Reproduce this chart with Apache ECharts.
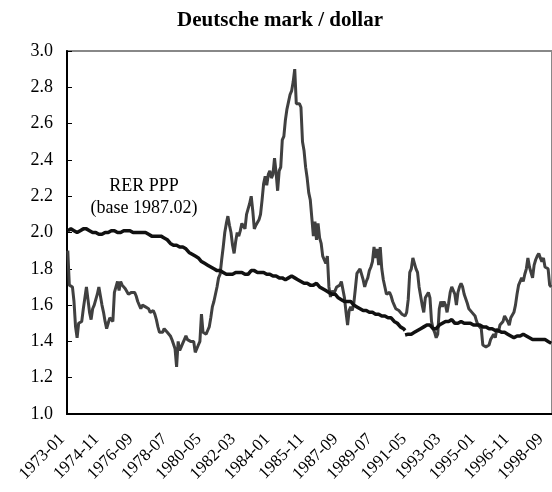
<!DOCTYPE html>
<html>
<head>
<meta charset="utf-8">
<script src="https://cdn.jsdelivr.net/npm/echarts@6/dist/echarts.min.js"></script>
<style>html,body{margin:0;padding:0;background:#fff}#c{width:552px;height:492px}</style>
</head>
<body>
<div id="c"></div>
<script>
// Monthly categories 1973-01 .. 1998-12
var startYear = 1973, monthCount = 312;
var categories = [];
for (var k = 0; k < monthCount; k++) {
  var y = startYear + Math.floor(k / 12), m = (k % 12) + 1;
  categories.push(y + '-' + (m < 10 ? '0' + m : m));
}

// Nominal DM/$ (grey line)
var dmDollar = [
1.90,1.71,1.71,1.70,1.62,1.48,1.42,1.50,1.49,1.51,1.58,1.64,
1.70,1.63,1.56,1.52,1.58,1.60,1.63,1.66,1.70,1.65,1.60,1.56,
1.51,1.47,1.50,1.53,1.52,1.51,1.67,1.70,1.73,1.68,1.73,1.71,
1.70,1.69,1.68,1.66,1.65,1.67,1.68,1.67,1.65,1.62,1.60,1.58,
1.60,1.60,1.59,1.59,1.58,1.56,1.57,1.57,1.55,1.52,1.48,1.45,
1.44,1.45,1.47,1.46,1.45,1.44,1.43,1.41,1.40,1.36,1.26,1.40,
1.35,1.37,1.39,1.41,1.43,1.41,1.40,1.40,1.39,1.40,1.34,1.35,
1.38,1.40,1.55,1.45,1.44,1.44,1.46,1.48,1.53,1.59,1.62,1.66,
1.70,1.75,1.77,1.85,1.92,2.00,2.05,2.09,2.04,2.00,1.93,1.885,
1.95,2.00,1.98,2.01,2.05,2.04,2.02,2.10,2.13,2.16,2.20,2.12,
2.02,2.04,2.05,2.07,2.10,2.18,2.27,2.31,2.26,2.32,2.34,2.30,
2.32,2.41,2.33,2.23,2.34,2.36,2.51,2.53,2.62,2.68,2.72,2.76,
2.78,2.83,2.90,2.71,2.70,2.71,2.69,2.50,2.45,2.36,2.30,2.22,
2.18,2.08,1.98,2.06,1.96,2.05,1.97,1.94,1.87,1.86,1.83,1.87,
1.70,1.645,1.68,1.66,1.68,1.70,1.71,1.71,1.73,1.72,1.64,1.56,
1.49,1.57,1.59,1.57,1.61,1.69,1.775,1.77,1.80,1.81,1.74,1.70,
1.73,1.75,1.79,1.81,1.84,1.92,1.86,1.91,1.82,1.92,1.80,1.74,
1.70,1.66,1.67,1.67,1.65,1.62,1.60,1.58,1.57,1.57,1.56,1.55,
1.54,1.54,1.56,1.63,1.78,1.80,1.86,1.87,1.80,1.78,1.70,1.69,
1.60,1.56,1.64,1.65,1.67,1.64,1.51,1.47,1.45,1.42,1.44,1.58,
1.62,1.59,1.62,1.60,1.56,1.61,1.67,1.70,1.71,1.66,1.60,1.67,
1.70,1.72,1.70,1.66,1.65,1.61,1.58,1.57,1.56,1.56,1.54,1.51,
1.49,1.48,1.47,1.38,1.38,1.37,1.38,1.38,1.41,1.40,1.44,1.42,
1.47,1.45,1.49,1.50,1.51,1.54,1.53,1.51,1.49,1.53,1.54,1.56,
1.60,1.66,1.71,1.72,1.75,1.73,1.77,1.80,1.86,1.81,1.80,1.75,
1.82,1.85,1.87,1.885,1.86,1.84,1.86,1.81,1.82,1.80,1.71,1.70
];

// RER PPP (base 1987.02), West Germany up to 1991-02
var rerPPPWest = [
2.01,2.01,2.02,2.01,2.01,2.00,2.00,2.00,2.01,2.02,2.02,2.02,
2.02,2.02,2.01,2.01,2.00,2.00,2.00,1.99,1.99,1.99,1.99,2.00,
2.00,2.00,2.00,2.01,2.01,2.01,2.01,2.00,2.00,2.00,2.00,2.00,
2.01,2.01,2.01,2.01,2.01,2.01,2.00,2.00,2.00,2.00,2.00,2.00,
2.00,2.00,2.00,1.99,1.99,1.98,1.98,1.98,1.98,1.98,1.98,1.98,
1.98,1.97,1.97,1.96,1.96,1.95,1.94,1.94,1.93,1.93,1.93,1.92,
1.92,1.92,1.92,1.92,1.91,1.90,1.89,1.89,1.88,1.87,1.87,1.86,
1.86,1.85,1.84,1.84,1.83,1.83,1.82,1.82,1.81,1.81,1.80,1.80,
1.79,1.79,1.79,1.78,1.78,1.77,1.77,1.77,1.77,1.77,1.77,1.78,
1.78,1.78,1.78,1.78,1.78,1.77,1.77,1.77,1.77,1.78,1.79,1.79,
1.79,1.79,1.78,1.78,1.78,1.78,1.78,1.78,1.77,1.77,1.77,1.77,
1.76,1.76,1.76,1.76,1.75,1.75,1.75,1.74,1.74,1.74,1.75,1.76,
1.76,1.76,1.75,1.75,1.74,1.74,1.73,1.73,1.72,1.72,1.72,1.71,
1.71,1.71,1.71,1.71,1.72,1.71,1.70,1.70,1.69,1.68,1.68,1.67,
1.67,1.66,1.66,1.66,1.66,1.65,1.64,1.64,1.63,1.63,1.62,1.62,
1.62,1.62,1.62,1.61,1.60,1.59,1.59,1.58,1.58,1.57,1.57,1.57,
1.57,1.57,1.56,1.56,1.56,1.55,1.55,1.55,1.55,1.55,1.54,1.54,
1.54,1.54,1.53,1.53,1.53,1.52,1.51,1.51,1.50,1.49,1.48,1.47,
1.47,1.46
];
// RER PPP after the break (from 1991-02 on)
var rerPPPUnified = [
1.435,1.44,1.44,1.44,1.44,1.45,1.45,1.45,1.46,1.47,1.47,1.48,
1.48,1.48,1.49,1.49,1.49,1.48,1.47,1.46,1.47,1.48,1.49,1.50,
1.50,1.51,1.51,1.51,1.51,1.52,1.52,1.51,1.50,1.50,1.50,1.51,
1.51,1.51,1.50,1.50,1.50,1.50,1.50,1.50,1.49,1.49,1.49,1.49,
1.49,1.48,1.48,1.48,1.48,1.48,1.47,1.47,1.47,1.46,1.46,1.46,
1.46,1.45,1.45,1.45,1.45,1.44,1.44,1.43,1.43,1.42,1.42,1.42,
1.43,1.43,1.43,1.44,1.44,1.44,1.43,1.42,1.42,1.42,1.41,1.41,
1.41,1.42,1.41,1.41,1.41,1.41,1.41,1.41,1.40,1.39,1.39
];

var yTicks = ['1.0','1.2','1.4','1.6','1.8','2.0','2.2','2.4','2.6','2.8','3.0'];
var titleText = 'Deutsche mark / dollar';
var noteLines = ['RER PPP', '(base 1987.02)'];

var breakIdx = rerPPPWest.length - 1; // 217
var westData = categories.map(function (c, i) { return i <= breakIdx ? rerPPPWest[i] : null; });
var unifiedData = categories.map(function (c, i) { return i >= breakIdx ? rerPPPUnified[i - breakIdx] : null; });

var FONT = '"Liberation Serif", "Times New Roman", serif';
var chart = echarts.init(document.getElementById('c'), null, { renderer: 'canvas' });
chart.setOption({
  animation: false,
  backgroundColor: '#fff',
  title: {
    text: titleText, left: 275, top: 5, textAlign: 'center',
    textStyle: { fontFamily: FONT, fontWeight: 'bold', fontSize: 21, color: '#000' }
  },
  grid: { left: 67, right: -2, top: 51, bottom: 78, show: true, borderColor: '#888', borderWidth: 2 },
  xAxis: {
    type: 'category', data: categories, boundaryGap: true,
    axisLine: { lineStyle: { color: '#000', width: 2 } },
    axisTick: { inside: true, interval: 4, length: 6, lineStyle: { color: '#000', width: 1 } },
    axisLabel: { interval: 21, rotate: 45, margin: 17, padding: [0, 8, 0, 0],
      fontFamily: FONT, fontSize: 17, color: '#000' },
    splitLine: { show: false }
  },
  yAxis: {
    type: 'value', min: 1, max: 3, interval: 0.2,
    axisLine: { show: true, lineStyle: { color: '#000', width: 2 } },
    axisTick: { show: true, inside: true, length: 5, lineStyle: { color: '#000', width: 1 } },
    axisLabel: { margin: 14, fontFamily: FONT, fontSize: 18, color: '#000',
      formatter: function (v) { var s = v.toFixed(1); return yTicks.indexOf(s) >= 0 ? s : ''; } },
    splitLine: { show: false }
  },
  graphic: [
    { type: 'text', x: 144, y: 186, style: { text: noteLines[0], textAlign: 'center', textVerticalAlign: 'middle', font: '18px ' + FONT, fill: '#000' } },
    { type: 'text', x: 144, y: 208, style: { text: noteLines[1], textAlign: 'center', textVerticalAlign: 'middle', font: '18px ' + FONT, fill: '#000' } }
  ],
  series: [
    { type: 'line', data: dmDollar, symbol: 'none', lineStyle: { color: '#404040', width: 3 }, z: 2 },
    { type: 'line', data: westData, symbol: 'none', connectNulls: false, lineStyle: { color: '#111', width: 3.5 }, z: 3 },
    { type: 'line', data: unifiedData, symbol: 'none', connectNulls: false, lineStyle: { color: '#111', width: 3.5 }, z: 3 }
  ]
});
</script>
</body>
</html>
